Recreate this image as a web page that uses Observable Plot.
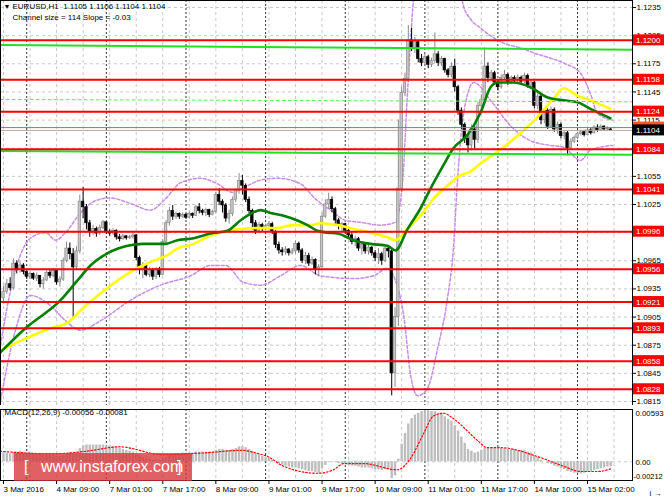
<!DOCTYPE html>
<html><head><meta charset="utf-8">
<script src="https://cdn.jsdelivr.net/npm/d3@7"></script>
<script src="https://cdn.jsdelivr.net/npm/@observablehq/plot@0.6"></script>
<style>
body{margin:0;background:#fff;}
#wrap{position:relative;width:664px;height:498px;overflow:hidden;background:#fff;}
#wrap svg{position:absolute;left:0;}
#wm{position:absolute;left:14px;top:453px;width:178px;height:28px;background:rgba(214,52,56,0.78);color:#fff;font-family:"Liberation Sans",Arial,sans-serif;font-size:16px;line-height:28px;white-space:nowrap;}
#wm .b{position:absolute;top:0;}
</style></head><body><div id="wrap"></div>
<script>
const FONT = '"Liberation Sans", Arial, sans-serif';
// ---------- data ----------
const firstOpen = 1.0925;
const closes = [
1.0932,1.0940,1.0936,1.0962,1.0955,1.0960,1.0953,1.0948,1.0951,1.0946,
1.0949,1.0940,1.0944,1.0952,1.0949,1.0954,1.0942,1.0945,1.0965,1.0978,
1.0972,1.0958,1.0975,1.1028,1.1022,1.1005,1.0996,1.0999,1.0994,1.1000,
1.1006,1.0996,1.0994,1.0997,1.0990,1.0988,1.0991,1.0989,1.0990,1.0992,
1.0968,1.0955,1.0960,1.0950,1.0955,1.0948,1.0956,1.0950,1.0985,1.1005,
1.1018,1.1012,1.1015,1.1012,1.1014,1.1011,1.1015,1.1013,1.1022,1.1018,
1.1016,1.1019,1.1014,1.1017,1.1035,1.1028,1.1024,1.1010,1.1015,1.1030,
1.1040,1.1050,1.1045,1.1030,1.1018,1.1005,1.0997,1.1003,1.0999,1.1002,
1.1004,1.0996,1.0982,1.0976,1.0974,1.0977,1.0973,1.0975,1.0983,1.0976,
1.0965,1.0970,1.0962,1.0966,1.0955,1.0958,1.1012,1.1025,1.1030,1.1020,
1.1008,1.1002,1.1004,1.0997,1.0992,1.0985,1.0988,1.0978,1.0982,1.0975,
1.0979,1.0973,1.0968,1.0972,1.0965,1.0978,1.0975,1.0845,1.0905,1.1042,
1.1144,1.1159,1.1200,1.1192,1.1198,1.1180,1.1176,1.1182,1.1174,1.1178,
1.1185,1.1176,1.1180,1.1168,1.1163,1.1172,1.1150,1.1125,1.1110,1.1095,
1.1088,1.1105,1.1094,1.1130,1.1136,1.1172,1.1160,1.1165,1.1155,1.1150,
1.1160,1.1163,1.1155,1.1160,1.1157,1.1160,1.1156,1.1162,1.1152,1.1155,
1.1130,1.1140,1.1115,1.1125,1.1108,1.1126,1.1105,1.1110,1.1098,1.1101,
1.1085,1.1092,1.1096,1.1100,1.1102,1.1099,1.1104,1.1101,1.1107,1.1104,
1.1108,1.1105,1.1105,1.1104];
const highs = [
1.0938,1.0945,1.0947,1.0967,1.0965,1.0964,1.0962,1.0955,1.0953,1.0952,
1.0952,1.0949,1.0947,1.0955,1.0955,1.0957,1.0954,1.0948,1.0968,1.0985,
1.0984,1.0978,1.0980,1.1035,1.1043,1.1025,1.1008,1.1003,1.1001,1.1003,
1.1008,1.1006,1.0998,1.0999,1.0998,1.0993,1.0993,1.0992,1.0992,1.0994,
1.0993,1.0970,1.0963,1.0962,1.0958,1.0957,1.0958,1.0958,1.0988,1.1008,
1.1022,1.1024,1.1017,1.1016,1.1016,1.1015,1.1017,1.1016,1.1024,1.1026,
1.1020,1.1021,1.1020,1.1019,1.1038,1.1042,1.1030,1.1026,1.1019,1.1033,
1.1042,1.1058,1.1056,1.1047,1.1033,1.1020,1.1008,1.1006,1.1005,1.1004,
1.1007,1.1006,1.0997,1.0985,1.0979,1.0980,1.0978,1.0978,1.0986,1.0985,
1.0978,1.0974,1.0973,1.0969,1.0967,1.0961,1.1016,1.1030,1.1037,1.1033,
1.1022,1.1010,1.1006,1.1005,1.1000,1.0995,1.0991,1.0990,1.0985,1.0983,
1.0982,1.0980,1.0976,1.0978,1.0974,1.0980,1.0981,1.0978,1.0915,1.1115,
1.1150,1.1165,1.1216,1.1213,1.1203,1.1200,1.1185,1.1185,1.1184,1.1181,
1.1208,1.1188,1.1183,1.1181,1.1170,1.1176,1.1180,1.1152,1.1128,1.1112,
1.1100,1.1110,1.1108,1.1134,1.1142,1.1192,1.1176,1.1168,1.1167,1.1158,
1.1163,1.1168,1.1165,1.1162,1.1162,1.1163,1.1162,1.1165,1.1164,1.1158,
1.1156,1.1143,1.1142,1.1128,1.1127,1.1129,1.1128,1.1113,1.1112,1.1104,
1.1103,1.1095,1.1098,1.1102,1.1104,1.1104,1.1106,1.1106,1.1109,1.1110,
1.1110,1.1109,1.1108,1.1106];
const lows = [
1.0919,1.0929,1.0933,1.0934,1.0951,1.0952,1.0950,1.0945,1.0945,1.0944,
1.0943,1.0936,1.0935,1.0943,1.0946,1.0947,1.0939,1.0937,1.0943,1.0963,
1.0966,1.0903,1.0955,1.0972,1.1010,1.0998,1.0990,1.0992,1.0990,1.0992,
1.0998,1.0993,1.0991,1.0992,1.0987,1.0985,1.0987,1.0987,1.0988,1.0988,
1.0965,1.0950,1.0946,1.0948,1.0947,1.0944,1.0945,1.0947,1.0949,1.0982,
1.1002,1.1008,1.1009,1.1009,1.1010,1.1009,1.1010,1.1010,1.1012,1.1015,
1.1013,1.1012,1.1011,1.1013,1.1015,1.1024,1.1016,1.1006,1.1004,1.1012,
1.1027,1.1036,1.1035,1.1027,1.1015,1.0998,1.0993,1.0994,1.0996,1.0997,
1.0998,1.0993,1.0978,1.0972,1.0970,1.0971,1.0970,1.0971,1.0972,1.0973,
1.0962,1.0961,1.0959,1.0960,1.0950,1.0948,1.0956,1.1010,1.1020,1.1016,
1.1003,1.0998,1.0996,1.0994,1.0988,1.0982,1.0980,1.0975,1.0971,1.0972,
1.0971,1.0970,1.0964,1.0961,1.0960,1.0963,1.0968,1.0821,1.0830,1.0895,
1.1038,1.1140,1.1155,1.1188,1.1186,1.1176,1.1172,1.1172,1.1170,1.1171,
1.1175,1.1172,1.1172,1.1165,1.1160,1.1160,1.1145,1.1120,1.1105,1.1090,
1.1080,1.1082,1.1084,1.1090,1.1125,1.1132,1.1155,1.1157,1.1152,1.1146,
1.1148,1.1157,1.1152,1.1153,1.1154,1.1155,1.1153,1.1154,1.1149,1.1148,
1.1127,1.1126,1.1110,1.1111,1.1105,1.1106,1.1102,1.1100,1.1095,1.1094,
1.1077,1.1083,1.1090,1.1094,1.1098,1.1097,1.1098,1.1099,1.1100,1.1102,
1.1103,1.1103,1.1103,1.1104];

const tickIdx = [0,16,32,48,64,80,96,112,128,144,160,176];
const tickLabels = ["3 Mar 2016","4 Mar 09:00","7 Mar 01:00","7 Mar 17:00","8 Mar 09:00","9 Mar 01:00","9 Mar 17:00","10 Mar 09:00","11 Mar 01:00","11 Mar 17:00","14 Mar 10:00","15 Mar 02:00"];
const gridIdx = [0,8,16,24,32,40,48,56,64,72,80,88,96,104,112,120,128,136,144,152,160,168,176,184];
const daySepIdx = [7,31,55,79,103,127,149,173];
const priceTicks = [1.1235,1.1205,1.1175,1.1145,1.1115,1.1085,1.1055,1.1025,1.0995,1.0965,1.0935,1.0905,1.0875,1.0845,1.0815];
const levels = [1.1200,1.1158,1.1124,1.1084,1.1041,1.0996,1.0956,1.0921,1.0893,1.0858,1.0828];
const askPrice = 1.1107;
const bidPrice = 1.1104;
const channelIdx = [-1, 190];
const channelUpper = [1.11950, 1.11900];
const channelMid = [1.11370, 1.11345];
const channelLower = [1.10820, 1.10780];

const maGreen = [[-1,1.0867],[6.6,1.0893],[17.2,1.0923],[22.3,1.0944],[26.2,1.0960],[31.3,1.0973],[37.4,1.0981],[42.2,1.0983],[48.8,1.0983],[52.4,1.0987],[57.3,1.0989],[62.4,1.0994],[67.5,1.0997],[71.4,1.1008],[74.4,1.1015],[77.5,1.1019],[80.5,1.1016],[84.4,1.1013],[88.6,1.1008],[91.6,1.1003],[94.6,1.0997],[97.6,1.0995],[100.7,1.0994],[105.5,1.0987],[110.6,1.0983],[115.7,1.0981],[118.1,1.0976],[121.8,1.0999],[125.7,1.1021],[128.7,1.1042],[132.6,1.1067],[135.6,1.1085],[139.8,1.1099],[143.8,1.1123],[146.8,1.1150],[148.9,1.1155],[153.7,1.1155],[158.8,1.1150],[164,1.1139],[168.8,1.1136],[173,1.1134],[176.9,1.1127],[182.9,1.1117]];
const maYellow = [[-1,1.0869],[6.6,1.0882],[14.2,1.0893],[19.3,1.0899],[24.1,1.0915],[29.2,1.0930],[34.4,1.0944],[39.2,1.0955],[45.2,1.0965],[49.4,1.0971],[52.4,1.0978],[57.3,1.0983],[62.4,1.0992],[67.5,1.0997],[72.3,1.0999],[77.5,1.1000],[82.6,1.1000],[87.4,1.1003],[92.5,1.1003],[95.5,1.1005],[100.7,1.1003],[105.5,1.0999],[110.6,1.0995],[115.7,1.0990],[118.1,1.0987],[121.8,1.0999],[125.7,1.1013],[129.6,1.1031],[133.8,1.1045],[137.7,1.1056],[140.7,1.1060],[143.8,1.1069],[145.9,1.1074],[150.7,1.1086],[155.8,1.1101],[160.9,1.1118],[165.8,1.1138],[168.8,1.1149],[173,1.1141],[176.9,1.1136],[182.9,1.1127]];
const bandUpper = [[-0.9,1.0875],[2.1,1.0933],[5.1,1.0971],[8.1,1.0989],[12.7,1.0995],[15.7,1.0987],[18.7,1.0995],[23.2,1.1016],[27.7,1.1029],[32.2,1.1032],[38.3,1.1026],[44.3,1.1019],[48.8,1.1031],[53.3,1.1048],[59.4,1.1053],[64.5,1.1047],[69,1.1038],[72.9,1.1044],[77.5,1.1051],[82.6,1.1053],[89.5,1.1047],[94,1.1031],[98.6,1.1019],[103.1,1.1008],[107.6,1.1006],[113.6,1.1003],[118.1,1.1006],[120.3,1.1051],[121.8,1.1147],[123.3,1.1232],[124.8,1.1285],[136.2,1.1285],[138.6,1.1237],[140.7,1.1223],[143.8,1.1213],[150.7,1.1197],[155.8,1.1192],[160.3,1.1186],[164.9,1.1181],[169.4,1.1175],[173.9,1.1165],[176.9,1.1143],[179,1.1122],[183.5,1.1115]];
const bandLower = [[-0.9,1.0816],[3.6,1.0891],[8.1,1.0928],[14.2,1.0917],[18.7,1.0901],[23.2,1.0891],[29.2,1.0901],[38.3,1.0923],[47.3,1.0939],[56.4,1.0949],[62.4,1.0960],[66.9,1.0960],[72.3,1.0942],[77.5,1.0939],[83.5,1.0949],[89.5,1.0960],[95.5,1.0949],[105.5,1.0946],[111.5,1.0949],[115.7,1.0957],[118.1,1.0944],[120.6,1.0907],[122.7,1.0843],[124.8,1.0821],[127.8,1.0829],[130.8,1.0871],[133.8,1.0925],[135.6,1.0978],[136.8,1.1049],[138.6,1.1120],[141.7,1.1155],[146.8,1.1136],[152.8,1.1109],[158.8,1.1093],[164.9,1.1088],[168.8,1.1086],[173.9,1.1072],[176.9,1.1083],[183.5,1.1088]];

const macdHist = [
0.0010,0.0010,0.0009,0.0011,0.0011,0.0012,0.0011,0.0010,0.0010,0.0009,
0.0009,0.0008,0.0007,0.0007,0.0007,0.0007,0.0006,0.0006,0.0007,0.0009,
0.0010,0.0010,0.0011,0.0015,0.0018,0.0019,0.0019,0.0019,0.0019,0.0019,
0.0019,0.0018,0.0018,0.0017,0.0016,0.0015,0.0014,0.0013,0.0012,0.0011,
0.0009,0.0007,0.0005,0.0004,0.0003,0.0002,0.0002,0.0001,0.0003,0.0005,
0.0007,0.0008,0.0009,0.0009,0.0010,0.0010,0.0010,0.0010,0.0011,0.0011,
0.0011,0.0011,0.0011,0.0011,0.0013,0.0014,0.0014,0.0013,0.0013,0.0014,
0.0015,0.0017,0.0017,0.0016,0.0014,0.0012,0.0009,0.0008,0.0006,0.0005,
0.0004,0.0002,0.0000,-0.0002,-0.0004,-0.0005,-0.0006,-0.0007,-0.0007,-0.0008,
-0.0009,-0.0010,-0.0011,-0.0011,-0.0012,-0.0013,-0.0008,-0.0004,-0.0001,0.0000,
-0.0001,-0.0002,-0.0002,-0.0003,-0.0004,-0.0005,-0.0005,-0.0006,-0.0007,-0.0007,
-0.0007,-0.0008,-0.0009,-0.0009,-0.0010,-0.0009,-0.0009,-0.0019,-0.0016,0.0003,
0.0020,0.0032,0.0043,0.0049,0.0053,0.0055,0.0057,0.0058,0.0058,0.0057,
0.0057,0.0055,0.0054,0.0051,0.0048,0.0046,0.0041,0.0035,0.0028,0.0021,
0.0014,0.0012,0.0010,0.0011,0.0013,0.0016,0.0016,0.0016,0.0015,0.0015,
0.0015,0.0015,0.0014,0.0014,0.0014,0.0013,0.0013,0.0013,0.0011,0.0010,
0.0007,0.0005,0.0002,0.0000,-0.0002,-0.0003,-0.0005,-0.0006,-0.0008,-0.0009,
-0.0011,-0.0012,-0.0013,-0.0013,-0.0014,-0.0013,-0.0012,-0.0011,-0.0010,-0.0009,
-0.0008,-0.0007,-0.0006,-0.00056];
const macdSignal = [[-1,0.0012],[15,0.0009],[25,0.0012],[35,0.0017],[48,0.0008],[60,0.0010],[72,0.0013],[76,0.0010],[79.6,0.0006],[84.4,-0.0005],[94.6,-0.0013],[99.5,-0.0009],[102.5,-0.0002],[108.5,-0.0002],[118.7,-0.0009],[122.7,0.0004],[126.6,0.0032],[129.6,0.0052],[132.6,0.0055],[135.6,0.0049],[139.8,0.0035],[142.9,0.0024],[145.9,0.0016],[149.8,0.0016],[160.9,0.0006],[168.8,-0.0005],[173.9,-0.0011],[179,-0.0011],[183,-0.00081]];
const macdAxis = [0.00593, 0, -0.00212];
const macdAxisLabels = ["0.00593", "0.00", "-0.00212"];
const headerLine1 = "EURUSD,H1  1.1105 1.1106 1.1104 1.1104";
const headerLine2 = "Channel size = 114 Slope = -0.03";
const macdTitle = "MACD(12,26,9) -0.00056 -0.00081";

// ---------- build ----------
const idxDomain = [-0.904, 189.57];
const priceDomain = [1.08107, 1.12425];
const candles = closes.map((c, i) => ({i, o: i === 0 ? firstOpen : closes[i - 1], h: highs[i], l: lows[i], c}));
const isBull = d => d.c >= d.o;
const pts = arr => arr.map(([i, v]) => ({i, v}));
const chan = vals => channelIdx.map((i, k) => ({i, v: vals[k]}));

function priceAxisMark(index, scales, values, dims) {
  const g = d3.create("svg:g").attr("font-family", FONT).attr("font-size", 8).attr("text-anchor", "start");
  const x0 = dims.width - dims.marginRight;
  g.append("line").attr("x1", x0 + 0.5).attr("x2", x0 + 0.5).attr("y1", 0).attr("y2", dims.height).attr("stroke", "#000");
  const boxes = [...levels.map(v => ({v, fill: "#ff0000"})), {v: askPrice, fill: "#ff5522"}, {v: bidPrice, fill: "#000"}];
  for (const b of boxes) {
    const y = scales.y(b.v);
    g.append("rect").attr("x", x0 + 1).attr("y", y - 5.5).attr("width", dims.marginRight - 1).attr("height", 11).attr("fill", b.fill);
    g.append("text").attr("x", x0 + 4).attr("y", y + 3).attr("fill", "#fff").attr("text-anchor", "start").text(b.v.toFixed(4));
  }
  return g.node();
}

const price = Plot.plot({
  width: 664, height: 405, marginLeft: 0, marginRight: 32, marginTop: 0, marginBottom: 0,
  style: {fontFamily: FONT, fontSize: "8px", background: "transparent", color: "#000"},
  x: {type: "linear", domain: idxDomain, axis: null},
  y: {type: "linear", domain: priceDomain, axis: null},
  marks: [
    Plot.ruleY(priceTicks, {stroke: "#c8c8c8", strokeDasharray: "3,3"}),
    Plot.ruleX(gridIdx, {stroke: "#c8c8c8", strokeDasharray: "3,3"}),
    Plot.ruleX(daySepIdx, {stroke: "#333", strokeDasharray: "2,2"}),
    Plot.line(pts(bandUpper), {x: "i", y: "v", stroke: "#c98ce6", strokeDasharray: "3,2", curve: "monotone-x", clip: true}),
    Plot.line(pts(bandLower), {x: "i", y: "v", stroke: "#c98ce6", strokeDasharray: "3,2", curve: "monotone-x", clip: true}),
    Plot.ruleX(candles, {x: "i", y1: "l", y2: "h", stroke: d => isBull(d) ? "#8a8a8a" : "#000"}),
    Plot.rect(candles, {x1: d => d.i - 0.37, x2: d => d.i + 0.37, y1: "o", y2: d => Math.abs(d.c - d.o) < 0.00004 ? d.o + 0.00004 : d.c,
      fill: d => isBull(d) ? "#c6c6c6" : "#000", stroke: d => isBull(d) ? "#8a8a8a" : "#000", strokeWidth: 0.7}),
    Plot.line(pts(maYellow), {x: "i", y: "v", stroke: "#ffff00", strokeWidth: 2.6, curve: "monotone-x", clip: true}),
    Plot.line(pts(maGreen), {x: "i", y: "v", stroke: "#008000", strokeWidth: 2.6, curve: "monotone-x", clip: true}),
    Plot.line(chan(channelMid), {x: "i", y: "v", stroke: "#55ee55", strokeDasharray: "3,3", strokeWidth: 1, clip: true}),
    Plot.line(chan(channelUpper), {x: "i", y: "v", stroke: "#22e022", strokeWidth: 2, clip: true}),
    Plot.line(chan(channelLower), {x: "i", y: "v", stroke: "#22e022", strokeWidth: 2, clip: true}),
    Plot.ruleY(levels, {stroke: "#ff0000", strokeWidth: 2}),
    Plot.ruleY([askPrice], {stroke: "#ff5522", strokeWidth: 1}),
    Plot.ruleY([bidPrice], {stroke: "#a8a8a8", strokeWidth: 1}),
    Plot.axisY({anchor: "right", ticks: priceTicks, tickFormat: d => d.toFixed(4), tickSize: 3, tickPadding: 1, fontSize: 8}),
    priceAxisMark,
    Plot.text(["\u25BC"], {frameAnchor: "top-left", dx: 3, dy: 4, fontSize: 7}),
    Plot.text([headerLine1], {frameAnchor: "top-left", dx: 12, dy: 3, fontSize: 8}),
    Plot.text([headerLine2], {frameAnchor: "top-left", dx: 12, dy: 14, fontSize: 8}),
    Plot.frame({stroke: "#000"})
  ]
});
price.style.top = "0px";

const axisRows = macdAxis.map((v, k) => ({v, t: macdAxisLabels[k]}));
const macd = Plot.plot({
  width: 664, height: 93, marginLeft: 0, marginRight: 32, marginTop: 4, marginBottom: 18,
  style: {fontFamily: FONT, fontSize: "8px", background: "transparent", color: "#000"},
  x: {type: "linear", domain: idxDomain, axis: null},
  y: {type: "linear", domain: [-0.00212, 0.00593], axis: null},
  marks: [
    Plot.ruleY([0], {stroke: "#c8c8c8", strokeDasharray: "3,3"}),
    Plot.ruleX(gridIdx, {stroke: "#c8c8c8", strokeDasharray: "3,3"}),
    Plot.ruleX(daySepIdx, {stroke: "#333", strokeDasharray: "2,2"}),
    Plot.ruleX(macdHist.map((v, i) => ({i, v})), {x: "i", y1: 0, y2: "v", stroke: "#bdbdbd", strokeWidth: 2.4}),
    Plot.line(pts(macdSignal), {x: "i", y: "v", stroke: "#ff0000", strokeDasharray: "1.5,2", strokeWidth: 1.2, curve: "monotone-x", clip: true}),
    Plot.text([macdTitle], {frameAnchor: "top-left", dx: 4, dy: 0, fontSize: 8}),
    Plot.text(axisRows.slice(0, 1), {y: "v", text: "t", frameAnchor: "right", dx: 3, dy: 4, textAnchor: "start", fontSize: 7.8}),
    Plot.text(axisRows.slice(1, 2), {y: "v", text: "t", frameAnchor: "right", dx: 3, dy: 1, textAnchor: "start", fontSize: 7.8}),
    Plot.text(axisRows.slice(2, 3), {y: "v", text: "t", frameAnchor: "right", dx: 1, dy: -4, textAnchor: "start", fontSize: 7.4}),
    Plot.axisX({ticks: tickIdx, tickFormat: d => tickLabels[tickIdx.indexOf(d)], tickSize: 4, tickPadding: 2, textAnchor: "start", fontSize: 8}),
    Plot.frame({stroke: "#000"})
  ]
});
macd.style.top = "405px";

const wrap = document.getElementById("wrap");
wrap.appendChild(price);
wrap.appendChild(macd);
const wm = document.createElement("div");
wm.id = "wm";
wm.innerHTML = '<span class="b" style="left:10px">[</span><span class="b" style="left:27px">www.instaforex.com</span><span class="b" style="left:163px">]</span>';
wrap.appendChild(wm);
</script></body></html>
